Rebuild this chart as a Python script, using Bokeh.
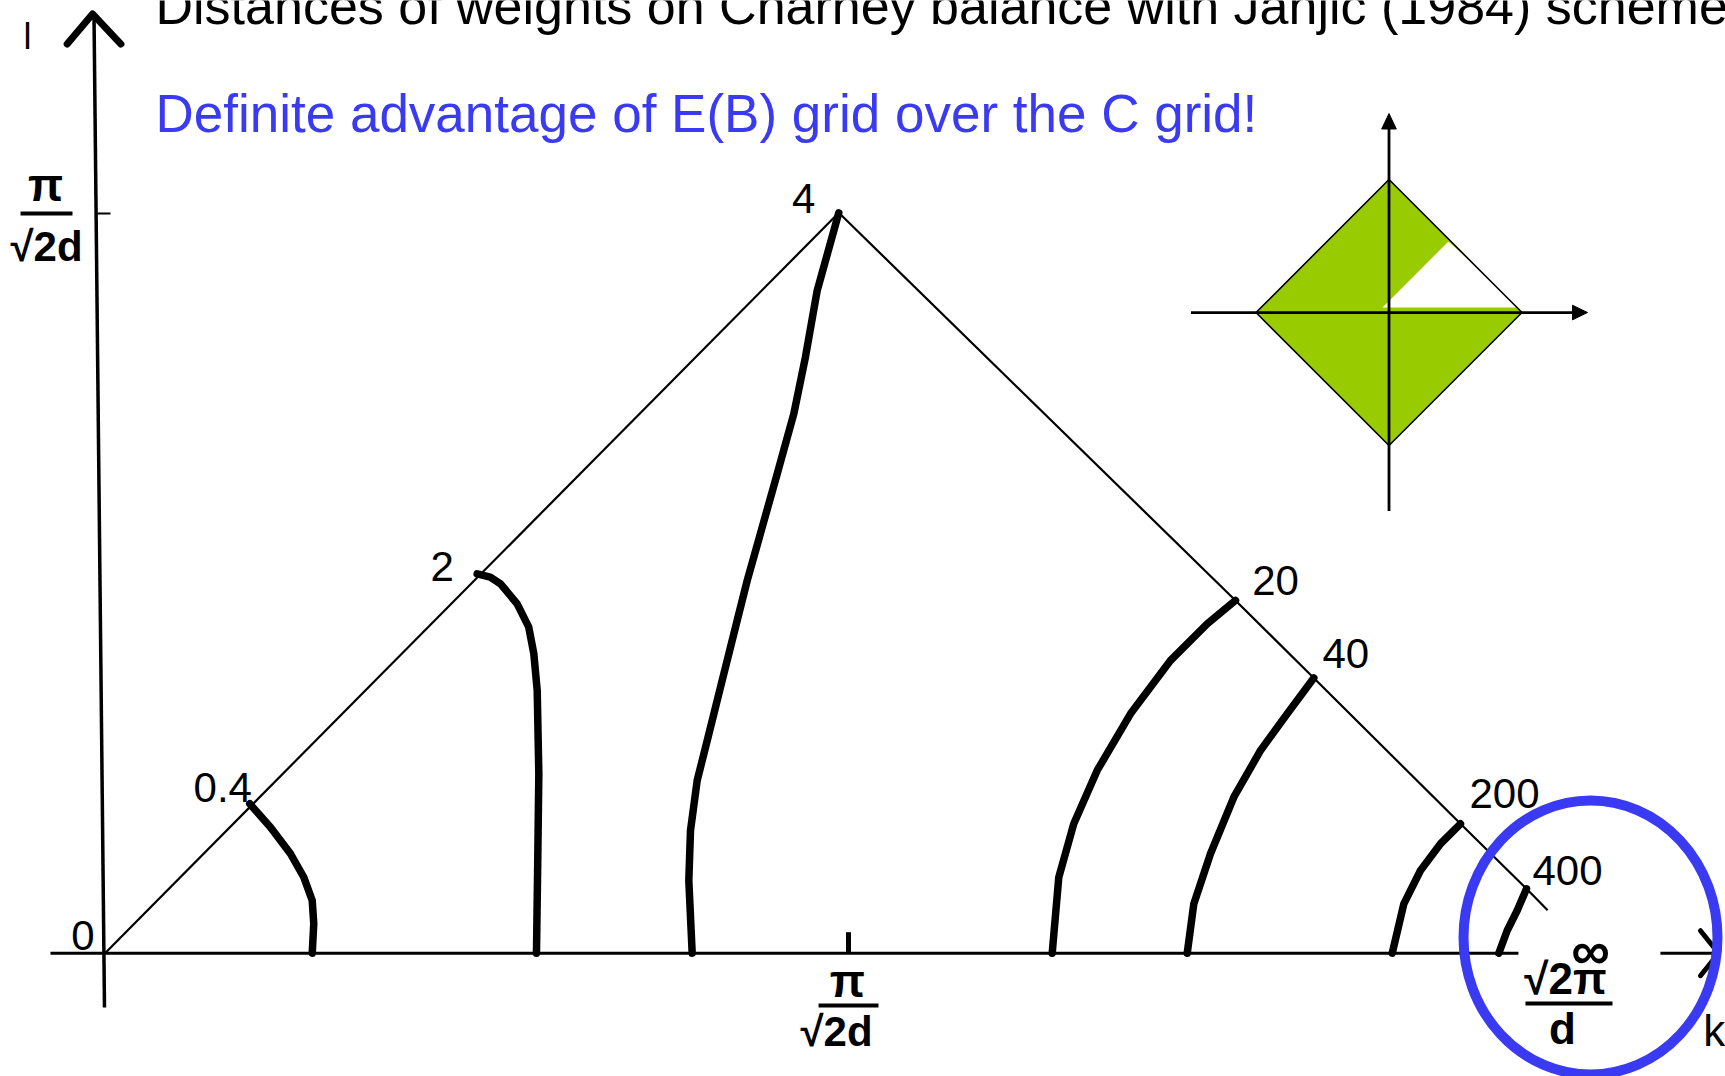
from bokeh.plotting import figure
from bokeh.models import Range1d
from bokeh.core.properties import value
from bokeh.embed import file_html
from bokeh.resources import INLINE

# Wavenumbers k (horizontal) and l (vertical) in units of pi/(sqrt(2) d).
# The admissible region is the triangle 0 <= l <= k, l <= 2 - k.
edge_left_k = [0.0, 1.0]
edge_left_l = [0.0, 1.0]
edge_right_k = [1.0, 1.5406, 1.6473, 1.8472, 1.9372, 1.9660]
edge_right_l = [1.0, 0.4764, 0.3717, 0.1748, 0.0870, 0.0580]

# Isolines of the distance of the weights, one per labelled value
k_w04 = [0.1973, 0.2255, 0.2528, 0.2709, 0.2824, 0.2845, 0.2824]
l_w04 = [0.2018, 0.1702, 0.1343, 0.1026, 0.0712, 0.0397, 0.0]
k_w2 = [0.5072, 0.5250, 0.5390, 0.5617, 0.5775, 0.5844, 0.5890, 0.5912, 0.5898, 0.5880]
l_w2 = [0.5124, 0.5080, 0.4989, 0.4719, 0.4403, 0.4044, 0.3548, 0.2423, 0.1297, 0.0]
k_w4 = [1.0, 0.9706, 0.9545, 0.9387, 0.9161, 0.8752, 0.8615, 0.8388, 0.8207,
        0.8070, 0.7979, 0.7956, 0.8002]
l_w4 = [1.0, 0.8951, 0.8050, 0.7285, 0.6475, 0.5034, 0.4494, 0.3593, 0.2873,
        0.2333, 0.1657, 0.0982, 0.0]
k_w20 = [1.5406, 1.5020, 1.4520, 1.3975, 1.3521, 1.3202, 1.2998, 1.2908]
l_w20 = [0.4764, 0.4449, 0.3953, 0.3233, 0.2468, 0.1748, 0.1026, 0.0]
k_w40 = [1.6473, 1.6111, 1.5747, 1.5383, 1.5065, 1.4838, 1.4748]
l_w40 = [0.3717, 0.3233, 0.2738, 0.2107, 0.1343, 0.0667, 0.0]
k_w200 = [1.8472, 1.8200, 1.7927, 1.7700, 1.7542]
l_w200 = [0.1748, 0.1478, 0.1117, 0.0667, 0.0]
k_w400 = [1.9372, 1.9245, 1.9109, 1.8994]
l_w400 = [0.0870, 0.0577, 0.0307, 0.0]

weight_labels = ["0.4", "2", "4", "20", "40", "200", "400"]

TITLE = "Distances of weights on Charney balance with Janjic (1984) scheme"
SUBTITLE = "Definite advantage of E(B) grid over the C grid!"

BLUE = "#3a3af2"
GREEN = "#99cc00"
FONT = value("Liberation Sans")

p = figure(width=1725, height=1076,
           x_range=Range1d(-0.14241, 2.20837), y_range=Range1d(-0.16653, 1.28674),
           output_backend="svg", toolbar_location=None,
           x_axis_location=None, y_axis_location=None, min_border=0)
p.grid.visible = False
p.outline_line_color = None
p.background_fill_color = "white"
p.border_fill_color = "white"

# coordinate axes
p.line([-0.0150, -0.0007], [1.2678, -0.0732], line_color="black", line_width=3.5)
p.line([-0.0515, -0.0170, 0.0217], [1.2279, 1.2686, 1.2279],
       line_color="black", line_width=7, line_join="round", line_cap="round")
p.line([-0.0743, 1.9262], [0.0, 0.0], line_color="black", line_width=3)
p.line([2.1197, 2.1989], [0.0, 0.0], line_color="black", line_width=3)
p.line([2.1743, 2.1989, 2.1743], [0.0304, 0.0, -0.0304],
       line_color="black", line_width=5, line_join="round", line_cap="round")
# ticks at pi/(sqrt(2) d)
p.segment(x0=[1.0132], y0=[0.0], x1=[1.0132], y1=[0.0284], line_color="black", line_width=5)
p.segment(x0=[-0.0102], y0=[0.999], x1=[0.0075], y1=[0.999], line_color="black", line_width=2)

# triangle boundary
p.line(edge_left_k, edge_left_l, line_color="black", line_width=2.2)
p.line(edge_right_k, edge_right_l, line_color="black", line_width=2.2)

# isolines
curves_k = [k_w04, k_w2, k_w4, k_w20, k_w40, k_w200, k_w400]
curves_l = [l_w04, l_w2, l_w4, l_w20, l_w40, l_w200, l_w400]
for ck, cl in zip(curves_k, curves_l):
    p.line(ck, cl, line_color="black", line_width=7.5, line_cap="round", line_join="round")

# value labels next to where each isoline meets the boundary
label_dx = [-27, -35, -35, 40, 32, 44, 41]
label_dy = [-16, -7, -14, -20, -24, -30, -18]
p.text(x=[c[0] for c in curves_k], y=[c[0] for c in curves_l], text=weight_labels,
       x_offset=label_dx, y_offset=label_dy, text_font=FONT, text_font_size="42px",
       text_align="center", text_baseline="middle", text_color="black")

# origin, axis names
p.text(x=[0.0], y=[0.0], text=["0"], x_offset=[-22], y_offset=[-18], text_font=FONT,
       text_font_size="42px", text_align="center", text_baseline="middle", text_color="black")
p.text(x=[-0.1056], y=[1.2380], text=["l"], text_font=FONT, text_font_size="36px",
       text_align="center", text_baseline="middle", text_color="black")
p.text(x=[2.1930], y=[-0.1044], text=["k"], text_font=FONT, text_font_size="44px",
       text_align="center", text_baseline="middle", text_color="black")

# fraction tick labels
frac_kw = dict(text_font=FONT, text_font_style="bold", text_align="center",
               text_baseline="middle", text_color="black")
p.text(x=[-0.0811, 1.0118], y=[1.0375, -0.0382], text=["π", "π"], text_font_size="46px", **frac_kw)
p.text(x=[-0.0797, 0.9969], y=[0.9545, -0.1058], text=["√2d", "√2d"], text_font_size="42px", **frac_kw)
p.text(x=[2.0244], y=[0.0040], text=["∞"], text_font_size="54px", **frac_kw)
p.text(x=[1.9903], y=[-0.0341], text=["√2π"], text_font_size="44px", **frac_kw)
p.text(x=[1.9862], y=[-0.1017], text=["d"], text_font_size="44px", **frac_kw)
p.segment(x0=[-0.1151, 0.9724, 1.9358], y0=[0.999, -0.0706, -0.0679],
          x1=[-0.0443, 1.0541, 2.0544], y1=[0.999, -0.0706, -0.0679],
          line_color="black", line_width=4)

# headings
p.text(x=[0.0688], y=[1.2790], text=[TITLE], text_font=FONT, text_font_size="52px",
       text_align="left", text_baseline="alphabetic", text_color="black")
p.text(x=[0.0688], y=[1.1340], text=[SUBTITLE], text_font=FONT, text_font_size="53px",
       text_align="left", text_baseline="alphabetic", text_color=BLUE)

# inset: the E-grid wavenumber square (unit diamond) with the C-grid part left white
inset_cx, inset_cy = 1.7498, 0.8653
inset_sx, inset_sy = 0.18125, 0.17963


def ix(u):
    return [inset_cx + inset_sx * v for v in u]


def iy(u):
    return [inset_cy + inset_sy * v for v in u]


diamond_u = [-1.0, 0.0, 1.0, 0.0]
diamond_v = [0.0, 1.0, 0.0, -1.0]
cgrid_u = [-0.049, 0.447, 0.997]
cgrid_v = [0.038, 0.534, 0.038]
p.patch(ix(diamond_u), iy(diamond_v), fill_color=GREEN, line_color=None)
p.patch(ix(cgrid_u), iy(cgrid_v), fill_color="white", line_color=None)
p.patch(ix(diamond_u), iy(diamond_v), fill_color=None, line_color="black", line_width=1.6)
p.line(ix([-1.489, 1.40]), iy([0.0, 0.0]), line_color="black", line_width=2.8)
p.line(ix([0.0, 0.0]), iy([-1.493, 1.40]), line_color="black", line_width=2.8)
p.patch(ix([1.4925, 1.38, 1.38]), iy([0.0, 0.055, -0.055]), fill_color="black", line_color="black")
p.patch(ix([0.0, 0.055, -0.055]), iy([1.496, 1.38, 1.38]), fill_color="black", line_color="black")

# highlight ring around the short-wave end
p.ellipse(x=[2.0244], y=[0.0212], width=[0.3461], height=[0.3701],
          fill_color=None, line_color=BLUE, line_width=10)

open("out.html", "w").write(file_html(p, INLINE))
